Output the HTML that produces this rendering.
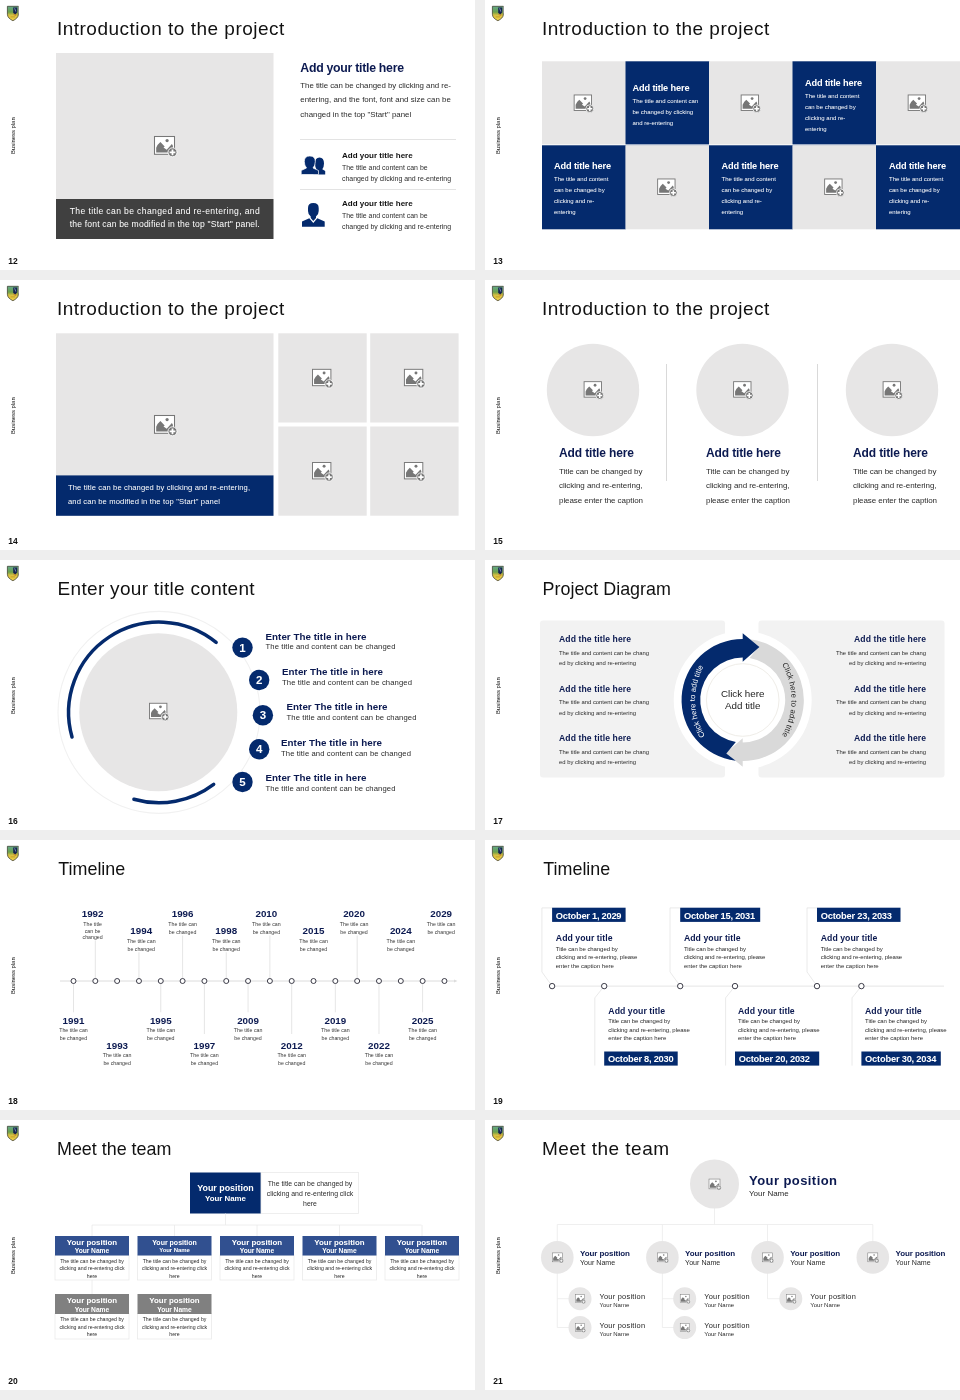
<!DOCTYPE html>
<html lang="en"><head><meta charset="utf-8"><title>Business plan slides 12-21</title>
<style>html,body{margin:0;padding:0}body{width:960px;height:1400px;background:#eeeeee;position:relative;overflow:hidden;font-family:'Liberation Sans', sans-serif}.s{position:absolute;display:block}</style></head>
<body>
<svg class="s" style="left:0px;top:0px" width="475" height="270" viewBox="0 0 475 270" font-family="'Liberation Sans', sans-serif">
<rect width="475" height="270" fill="#fff"/>
<linearGradient id="lg1" x1="0" y1="0" x2="0" y2="1"><stop offset="0" stop-color="#63a98c"/><stop offset="0.4" stop-color="#6aa04a"/><stop offset="0.62" stop-color="#d8c040"/><stop offset="1" stop-color="#f2d24a"/></linearGradient><path d="M7.4 6.3 H18.4 V14.3 C18.4 17.4 15.6 19.4 12.9 20.7 C10.2 19.4 7.4 17.4 7.4 14.3 Z" fill="url(#lg1)"/><path d="M13.2 7.6 H17.2 V12.2 L15.4 14.6 L13.2 13 Z" fill="#14224f"/><path d="M14.6 8.2 L15.8 11.6" stroke="#9fb4d8" stroke-width="0.7"/><path d="M13.4 13.2 L15.4 14.8 L16.6 13.2 L16 16 L13.6 15 Z" fill="#c8782c" opacity="0.8"/><path d="M10.6 16.9 H15" stroke="#b8901e" stroke-width="0.7"/><path d="M7.4 6.3 H18.4 V14.3 C18.4 17.4 15.6 19.4 12.9 20.7 C10.2 19.4 7.4 17.4 7.4 14.3 Z" fill="none" stroke="#3b3b2c" stroke-width="0.75"/><path d="M18.4 6.3 V13.6" stroke="#a9a9a4" stroke-width="0.8"/>
<text x="56.9" y="35" font-size="19" fill="#111" textLength="227.5" lengthAdjust="spacing" >Introduction to the project</text>
<text transform="translate(15,154) rotate(-90)" font-size="5.9" fill="#111">Business plan</text>
<text x="8.3" y="263.9" font-size="8.5" fill="#111" font-weight="bold" >12</text>
<rect x="56" y="53" width="217.5" height="146" fill="#e7e6e6" />
<rect x="56" y="199" width="217.5" height="40" fill="#404040" />
<g transform="translate(164.5,145.5) scale(1.0)"><rect x="-10" y="-9" width="20" height="17.8" fill="#fff" stroke="#777" stroke-width="1.05"/><path d="M-8.3 6.9 L-8.3 2.2 Q-7.2 -0.8 -4.1 -3.4 L0.2 0.9 L-1 2.1 L2.2 4.2 L7.4 -1.4 L8.4 0.2 L8.4 6.9 Z" fill="#777"/><circle cx="2.6" cy="-4.9" r="1.6" fill="#777"/><circle cx="8" cy="6.8" r="4.5" fill="#777" stroke="#fff" stroke-width="0.9"/><path d="M8 3.9 V9.7 M5.1 6.8 H10.9" stroke="#fff" stroke-width="1.8" fill="none"/></g>
<text x="164.75" y="214" font-size="8.6" fill="#fff" text-anchor="middle" textLength="190" lengthAdjust="spacing" >The title can be changed and re-entering, and</text>
<text x="164.75" y="227" font-size="8.6" fill="#fff" text-anchor="middle" textLength="190" lengthAdjust="spacing" >the font can be modified in the top "Start" panel.</text>
<text x="300.3" y="72" font-size="12.3" fill="#0b1950" font-weight="bold" textLength="103.7" lengthAdjust="spacing" >Add your title here</text>
<text x="300.3" y="87.5" font-size="7.9" fill="#2b2b2b" textLength="150.6" lengthAdjust="spacing" >The title can be changed by clicking and re-</text>
<text x="300.3" y="102.1" font-size="7.9" fill="#2b2b2b" textLength="150.6" lengthAdjust="spacing" >entering, and the font, font and size can be</text>
<text x="300.3" y="116.6" font-size="7.9" fill="#2b2b2b" >changed in the top "Start" panel</text>
<line x1="300" y1="139.5" x2="456" y2="139.5" stroke="#e3e3e3" stroke-width="1" />
<line x1="300" y1="189.5" x2="456" y2="189.5" stroke="#e3e3e3" stroke-width="1" />
<g fill="#042a6d"><path d="M313.5 174.5 V171 L316.5 169.3 Q315 167 315 163.5 Q315 157.5 319.5 157.5 Q324 157.5 324 163.5 Q324 167 322.3 169.3 L325.2 171 V174.5 Z"/><path d="M301.2 174.5 V170.5 L306.5 168 Q304.3 165.5 304.3 161.5 Q304.3 156 309.8 156 Q315.3 156 315.3 161.5 Q315.3 165.5 313 168 L318.5 170.5 V174.5 Z" stroke="#fff" stroke-width="0.7"/></g>
<g fill="#042a6d"><path d="M308 208 Q308 203 313.3 203 Q318.7 203 318.7 208 V211 Q318.7 214.5 316 216.5 L316 218 L313.3 221 L310.7 218 L310.7 216.5 Q308 214.5 308 211 Z"/><path d="M302 226.8 V221.5 L309.3 218.3 L313.3 223 L317.3 218.3 L324.7 221.5 V226.8 Z"/></g>
<text x="342" y="158.2" font-size="8.0" fill="#111" font-weight="bold" >Add your title here</text>
<text x="342" y="170.0" font-size="6.95" fill="#2b2b2b" >The title and content can be</text>
<text x="342" y="181.0" font-size="6.95" fill="#2b2b2b" textLength="109" lengthAdjust="spacing" >changed by clicking and re-entering</text>
<text x="342" y="206.3" font-size="8.0" fill="#111" font-weight="bold" >Add your title here</text>
<text x="342" y="218.10000000000002" font-size="6.95" fill="#2b2b2b" >The title and content can be</text>
<text x="342" y="229.10000000000002" font-size="6.95" fill="#2b2b2b" textLength="109" lengthAdjust="spacing" >changed by clicking and re-entering</text>
</svg>
<svg class="s" style="left:485px;top:0px" width="475" height="270" viewBox="0 0 475 270" font-family="'Liberation Sans', sans-serif">
<rect width="475" height="270" fill="#fff"/>
<linearGradient id="lg2" x1="0" y1="0" x2="0" y2="1"><stop offset="0" stop-color="#63a98c"/><stop offset="0.4" stop-color="#6aa04a"/><stop offset="0.62" stop-color="#d8c040"/><stop offset="1" stop-color="#f2d24a"/></linearGradient><path d="M7.4 6.3 H18.4 V14.3 C18.4 17.4 15.6 19.4 12.9 20.7 C10.2 19.4 7.4 17.4 7.4 14.3 Z" fill="url(#lg2)"/><path d="M13.2 7.6 H17.2 V12.2 L15.4 14.6 L13.2 13 Z" fill="#14224f"/><path d="M14.6 8.2 L15.8 11.6" stroke="#9fb4d8" stroke-width="0.7"/><path d="M13.4 13.2 L15.4 14.8 L16.6 13.2 L16 16 L13.6 15 Z" fill="#c8782c" opacity="0.8"/><path d="M10.6 16.9 H15" stroke="#b8901e" stroke-width="0.7"/><path d="M7.4 6.3 H18.4 V14.3 C18.4 17.4 15.6 19.4 12.9 20.7 C10.2 19.4 7.4 17.4 7.4 14.3 Z" fill="none" stroke="#3b3b2c" stroke-width="0.75"/><path d="M18.4 6.3 V13.6" stroke="#a9a9a4" stroke-width="0.8"/>
<text x="56.9" y="35" font-size="19" fill="#111" textLength="227.5" lengthAdjust="spacing" >Introduction to the project</text>
<text transform="translate(15,154) rotate(-90)" font-size="5.9" fill="#111">Business plan</text>
<text x="8.3" y="263.9" font-size="8.5" fill="#111" font-weight="bold" >13</text>
<rect x="57.0" y="61.3" width="83.8" height="84" fill="#e7e6e6" />
<g transform="translate(97.85,102.8) scale(0.87)"><rect x="-10" y="-9" width="20" height="17.8" fill="#fff" stroke="#777" stroke-width="1.05"/><path d="M-8.3 6.9 L-8.3 2.2 Q-7.2 -0.8 -4.1 -3.4 L0.2 0.9 L-1 2.1 L2.2 4.2 L7.4 -1.4 L8.4 0.2 L8.4 6.9 Z" fill="#777"/><circle cx="2.6" cy="-4.9" r="1.6" fill="#777"/><circle cx="8" cy="6.8" r="4.5" fill="#777" stroke="#fff" stroke-width="0.9"/><path d="M8 3.9 V9.7 M5.1 6.8 H10.9" stroke="#fff" stroke-width="1.8" fill="none"/></g>
<rect x="140.5" y="61.3" width="83.8" height="84" fill="#042a6d" />
<rect x="224.0" y="61.3" width="83.8" height="84" fill="#e7e6e6" />
<g transform="translate(264.85,102.8) scale(0.87)"><rect x="-10" y="-9" width="20" height="17.8" fill="#fff" stroke="#777" stroke-width="1.05"/><path d="M-8.3 6.9 L-8.3 2.2 Q-7.2 -0.8 -4.1 -3.4 L0.2 0.9 L-1 2.1 L2.2 4.2 L7.4 -1.4 L8.4 0.2 L8.4 6.9 Z" fill="#777"/><circle cx="2.6" cy="-4.9" r="1.6" fill="#777"/><circle cx="8" cy="6.8" r="4.5" fill="#777" stroke="#fff" stroke-width="0.9"/><path d="M8 3.9 V9.7 M5.1 6.8 H10.9" stroke="#fff" stroke-width="1.8" fill="none"/></g>
<rect x="307.5" y="61.3" width="83.8" height="84" fill="#042a6d" />
<rect x="391.0" y="61.3" width="85.0" height="84" fill="#e7e6e6" />
<g transform="translate(431.85,102.8) scale(0.87)"><rect x="-10" y="-9" width="20" height="17.8" fill="#fff" stroke="#777" stroke-width="1.05"/><path d="M-8.3 6.9 L-8.3 2.2 Q-7.2 -0.8 -4.1 -3.4 L0.2 0.9 L-1 2.1 L2.2 4.2 L7.4 -1.4 L8.4 0.2 L8.4 6.9 Z" fill="#777"/><circle cx="2.6" cy="-4.9" r="1.6" fill="#777"/><circle cx="8" cy="6.8" r="4.5" fill="#777" stroke="#fff" stroke-width="0.9"/><path d="M8 3.9 V9.7 M5.1 6.8 H10.9" stroke="#fff" stroke-width="1.8" fill="none"/></g>
<rect x="57.0" y="145.3" width="83.8" height="84" fill="#042a6d" />
<rect x="140.5" y="145.3" width="83.8" height="84" fill="#e7e6e6" />
<g transform="translate(181.35,186.8) scale(0.87)"><rect x="-10" y="-9" width="20" height="17.8" fill="#fff" stroke="#777" stroke-width="1.05"/><path d="M-8.3 6.9 L-8.3 2.2 Q-7.2 -0.8 -4.1 -3.4 L0.2 0.9 L-1 2.1 L2.2 4.2 L7.4 -1.4 L8.4 0.2 L8.4 6.9 Z" fill="#777"/><circle cx="2.6" cy="-4.9" r="1.6" fill="#777"/><circle cx="8" cy="6.8" r="4.5" fill="#777" stroke="#fff" stroke-width="0.9"/><path d="M8 3.9 V9.7 M5.1 6.8 H10.9" stroke="#fff" stroke-width="1.8" fill="none"/></g>
<rect x="224.0" y="145.3" width="83.8" height="84" fill="#042a6d" />
<rect x="307.5" y="145.3" width="83.8" height="84" fill="#e7e6e6" />
<g transform="translate(348.35,186.8) scale(0.87)"><rect x="-10" y="-9" width="20" height="17.8" fill="#fff" stroke="#777" stroke-width="1.05"/><path d="M-8.3 6.9 L-8.3 2.2 Q-7.2 -0.8 -4.1 -3.4 L0.2 0.9 L-1 2.1 L2.2 4.2 L7.4 -1.4 L8.4 0.2 L8.4 6.9 Z" fill="#777"/><circle cx="2.6" cy="-4.9" r="1.6" fill="#777"/><circle cx="8" cy="6.8" r="4.5" fill="#777" stroke="#fff" stroke-width="0.9"/><path d="M8 3.9 V9.7 M5.1 6.8 H10.9" stroke="#fff" stroke-width="1.8" fill="none"/></g>
<rect x="391.0" y="145.3" width="85.0" height="84" fill="#042a6d" />
<rect x="57" y="144.15" width="418" height="0.6" fill="#fff" />
<text x="147.5" y="90.5" font-size="9.2" fill="#fff" font-weight="bold" textLength="57" lengthAdjust="spacing" >Add title here</text>
<text x="147.5" y="102.7" font-size="6.0" fill="#fff" >The title and content can</text>
<text x="147.5" y="113.7" font-size="6.0" fill="#fff" >be changed by clicking</text>
<text x="147.5" y="124.7" font-size="6.0" fill="#fff" >and re-entering</text>
<text x="320" y="85.5" font-size="9.2" fill="#fff" font-weight="bold" textLength="57" lengthAdjust="spacing" >Add title here</text>
<text x="320" y="97.7" font-size="6.0" fill="#fff" >The title and content</text>
<text x="320" y="108.7" font-size="6.0" fill="#fff" >can be changed by</text>
<text x="320" y="119.7" font-size="6.0" fill="#fff" >clicking and re-</text>
<text x="320" y="130.7" font-size="6.0" fill="#fff" >entering</text>
<text x="69" y="169" font-size="9.2" fill="#fff" font-weight="bold" textLength="57" lengthAdjust="spacing" >Add title here</text>
<text x="69" y="181.2" font-size="6.0" fill="#fff" >The title and content</text>
<text x="69" y="192.2" font-size="6.0" fill="#fff" >can be changed by</text>
<text x="69" y="203.2" font-size="6.0" fill="#fff" >clicking and re-</text>
<text x="69" y="214.2" font-size="6.0" fill="#fff" >entering</text>
<text x="236.5" y="169" font-size="9.2" fill="#fff" font-weight="bold" textLength="57" lengthAdjust="spacing" >Add title here</text>
<text x="236.5" y="181.2" font-size="6.0" fill="#fff" >The title and content</text>
<text x="236.5" y="192.2" font-size="6.0" fill="#fff" >can be changed by</text>
<text x="236.5" y="203.2" font-size="6.0" fill="#fff" >clicking and re-</text>
<text x="236.5" y="214.2" font-size="6.0" fill="#fff" >entering</text>
<text x="404" y="169" font-size="9.2" fill="#fff" font-weight="bold" textLength="57" lengthAdjust="spacing" >Add title here</text>
<text x="404" y="181.2" font-size="6.0" fill="#fff" >The title and content</text>
<text x="404" y="192.2" font-size="6.0" fill="#fff" >can be changed by</text>
<text x="404" y="203.2" font-size="6.0" fill="#fff" >clicking and re-</text>
<text x="404" y="214.2" font-size="6.0" fill="#fff" >entering</text>
</svg>
<svg class="s" style="left:0px;top:280px" width="475" height="270" viewBox="0 0 475 270" font-family="'Liberation Sans', sans-serif">
<rect width="475" height="270" fill="#fff"/>
<linearGradient id="lg3" x1="0" y1="0" x2="0" y2="1"><stop offset="0" stop-color="#63a98c"/><stop offset="0.4" stop-color="#6aa04a"/><stop offset="0.62" stop-color="#d8c040"/><stop offset="1" stop-color="#f2d24a"/></linearGradient><path d="M7.4 6.3 H18.4 V14.3 C18.4 17.4 15.6 19.4 12.9 20.7 C10.2 19.4 7.4 17.4 7.4 14.3 Z" fill="url(#lg3)"/><path d="M13.2 7.6 H17.2 V12.2 L15.4 14.6 L13.2 13 Z" fill="#14224f"/><path d="M14.6 8.2 L15.8 11.6" stroke="#9fb4d8" stroke-width="0.7"/><path d="M13.4 13.2 L15.4 14.8 L16.6 13.2 L16 16 L13.6 15 Z" fill="#c8782c" opacity="0.8"/><path d="M10.6 16.9 H15" stroke="#b8901e" stroke-width="0.7"/><path d="M7.4 6.3 H18.4 V14.3 C18.4 17.4 15.6 19.4 12.9 20.7 C10.2 19.4 7.4 17.4 7.4 14.3 Z" fill="none" stroke="#3b3b2c" stroke-width="0.75"/><path d="M18.4 6.3 V13.6" stroke="#a9a9a4" stroke-width="0.8"/>
<text x="56.9" y="35" font-size="19" fill="#111" textLength="227.5" lengthAdjust="spacing" >Introduction to the project</text>
<text transform="translate(15,154) rotate(-90)" font-size="5.9" fill="#111">Business plan</text>
<text x="8.3" y="263.9" font-size="8.5" fill="#111" font-weight="bold" >14</text>
<rect x="56" y="53.3" width="217.5" height="142.5" fill="#e7e6e6" />
<rect x="56" y="195.4" width="217.5" height="40.4" fill="#042a6d" />
<g transform="translate(164.5,144.5) scale(1.0)"><rect x="-10" y="-9" width="20" height="17.8" fill="#fff" stroke="#777" stroke-width="1.05"/><path d="M-8.3 6.9 L-8.3 2.2 Q-7.2 -0.8 -4.1 -3.4 L0.2 0.9 L-1 2.1 L2.2 4.2 L7.4 -1.4 L8.4 0.2 L8.4 6.9 Z" fill="#777"/><circle cx="2.6" cy="-4.9" r="1.6" fill="#777"/><circle cx="8" cy="6.8" r="4.5" fill="#777" stroke="#fff" stroke-width="0.9"/><path d="M8 3.9 V9.7 M5.1 6.8 H10.9" stroke="#fff" stroke-width="1.8" fill="none"/></g>
<text x="68" y="209.5" font-size="7.6" fill="#fff" textLength="182" lengthAdjust="spacing" >The title can be changed by clicking and re-entering,</text>
<text x="68" y="223.5" font-size="7.6" fill="#fff" textLength="152" lengthAdjust="spacing" >and can be modified in the top "Start" panel</text>
<rect x="278.3" y="53.3" width="88.4" height="89.2" fill="#e7e6e6" />
<g transform="translate(321.7,97.6) scale(0.92)"><rect x="-10" y="-9" width="20" height="17.8" fill="#fff" stroke="#777" stroke-width="1.05"/><path d="M-8.3 6.9 L-8.3 2.2 Q-7.2 -0.8 -4.1 -3.4 L0.2 0.9 L-1 2.1 L2.2 4.2 L7.4 -1.4 L8.4 0.2 L8.4 6.9 Z" fill="#777"/><circle cx="2.6" cy="-4.9" r="1.6" fill="#777"/><circle cx="8" cy="6.8" r="4.5" fill="#777" stroke="#fff" stroke-width="0.9"/><path d="M8 3.9 V9.7 M5.1 6.8 H10.9" stroke="#fff" stroke-width="1.8" fill="none"/></g>
<rect x="370.2" y="53.3" width="88.4" height="89.2" fill="#e7e6e6" />
<g transform="translate(413.6,97.6) scale(0.92)"><rect x="-10" y="-9" width="20" height="17.8" fill="#fff" stroke="#777" stroke-width="1.05"/><path d="M-8.3 6.9 L-8.3 2.2 Q-7.2 -0.8 -4.1 -3.4 L0.2 0.9 L-1 2.1 L2.2 4.2 L7.4 -1.4 L8.4 0.2 L8.4 6.9 Z" fill="#777"/><circle cx="2.6" cy="-4.9" r="1.6" fill="#777"/><circle cx="8" cy="6.8" r="4.5" fill="#777" stroke="#fff" stroke-width="0.9"/><path d="M8 3.9 V9.7 M5.1 6.8 H10.9" stroke="#fff" stroke-width="1.8" fill="none"/></g>
<rect x="278.3" y="146.5" width="88.4" height="89.2" fill="#e7e6e6" />
<g transform="translate(321.7,190.8) scale(0.92)"><rect x="-10" y="-9" width="20" height="17.8" fill="#fff" stroke="#777" stroke-width="1.05"/><path d="M-8.3 6.9 L-8.3 2.2 Q-7.2 -0.8 -4.1 -3.4 L0.2 0.9 L-1 2.1 L2.2 4.2 L7.4 -1.4 L8.4 0.2 L8.4 6.9 Z" fill="#777"/><circle cx="2.6" cy="-4.9" r="1.6" fill="#777"/><circle cx="8" cy="6.8" r="4.5" fill="#777" stroke="#fff" stroke-width="0.9"/><path d="M8 3.9 V9.7 M5.1 6.8 H10.9" stroke="#fff" stroke-width="1.8" fill="none"/></g>
<rect x="370.2" y="146.5" width="88.4" height="89.2" fill="#e7e6e6" />
<g transform="translate(413.6,190.8) scale(0.92)"><rect x="-10" y="-9" width="20" height="17.8" fill="#fff" stroke="#777" stroke-width="1.05"/><path d="M-8.3 6.9 L-8.3 2.2 Q-7.2 -0.8 -4.1 -3.4 L0.2 0.9 L-1 2.1 L2.2 4.2 L7.4 -1.4 L8.4 0.2 L8.4 6.9 Z" fill="#777"/><circle cx="2.6" cy="-4.9" r="1.6" fill="#777"/><circle cx="8" cy="6.8" r="4.5" fill="#777" stroke="#fff" stroke-width="0.9"/><path d="M8 3.9 V9.7 M5.1 6.8 H10.9" stroke="#fff" stroke-width="1.8" fill="none"/></g>
</svg>
<svg class="s" style="left:485px;top:280px" width="475" height="270" viewBox="0 0 475 270" font-family="'Liberation Sans', sans-serif">
<rect width="475" height="270" fill="#fff"/>
<linearGradient id="lg4" x1="0" y1="0" x2="0" y2="1"><stop offset="0" stop-color="#63a98c"/><stop offset="0.4" stop-color="#6aa04a"/><stop offset="0.62" stop-color="#d8c040"/><stop offset="1" stop-color="#f2d24a"/></linearGradient><path d="M7.4 6.3 H18.4 V14.3 C18.4 17.4 15.6 19.4 12.9 20.7 C10.2 19.4 7.4 17.4 7.4 14.3 Z" fill="url(#lg4)"/><path d="M13.2 7.6 H17.2 V12.2 L15.4 14.6 L13.2 13 Z" fill="#14224f"/><path d="M14.6 8.2 L15.8 11.6" stroke="#9fb4d8" stroke-width="0.7"/><path d="M13.4 13.2 L15.4 14.8 L16.6 13.2 L16 16 L13.6 15 Z" fill="#c8782c" opacity="0.8"/><path d="M10.6 16.9 H15" stroke="#b8901e" stroke-width="0.7"/><path d="M7.4 6.3 H18.4 V14.3 C18.4 17.4 15.6 19.4 12.9 20.7 C10.2 19.4 7.4 17.4 7.4 14.3 Z" fill="none" stroke="#3b3b2c" stroke-width="0.75"/><path d="M18.4 6.3 V13.6" stroke="#a9a9a4" stroke-width="0.8"/>
<text x="56.9" y="35" font-size="19" fill="#111" textLength="227.5" lengthAdjust="spacing" >Introduction to the project</text>
<text transform="translate(15,154) rotate(-90)" font-size="5.9" fill="#111">Business plan</text>
<text x="8.3" y="263.9" font-size="8.5" fill="#111" font-weight="bold" >15</text>
<circle cx="108" cy="110" r="46.2" fill="#e7e6e6" />
<g transform="translate(107.8,109.5) scale(0.87)"><rect x="-10" y="-9" width="20" height="17.8" fill="#fff" stroke="#777" stroke-width="1.05"/><path d="M-8.3 6.9 L-8.3 2.2 Q-7.2 -0.8 -4.1 -3.4 L0.2 0.9 L-1 2.1 L2.2 4.2 L7.4 -1.4 L8.4 0.2 L8.4 6.9 Z" fill="#777"/><circle cx="2.6" cy="-4.9" r="1.6" fill="#777"/><circle cx="8" cy="6.8" r="4.5" fill="#777" stroke="#fff" stroke-width="0.9"/><path d="M8 3.9 V9.7 M5.1 6.8 H10.9" stroke="#fff" stroke-width="1.8" fill="none"/></g>
<text x="74" y="177.2" font-size="12" fill="#0b1950" font-weight="bold" textLength="75" lengthAdjust="spacing" >Add title here</text>
<text x="74" y="193.8" font-size="8.0" fill="#2b2b2b" textLength="83.5" lengthAdjust="spacing" >Title can be changed by</text>
<text x="74" y="208.4" font-size="8.0" fill="#2b2b2b" textLength="83.5" lengthAdjust="spacing" >clicking and re-entering,</text>
<text x="74" y="222.7" font-size="8.0" fill="#2b2b2b" textLength="84" lengthAdjust="spacing" >please enter the caption</text>
<circle cx="257.5" cy="110" r="46.2" fill="#e7e6e6" />
<g transform="translate(257.3,109.5) scale(0.87)"><rect x="-10" y="-9" width="20" height="17.8" fill="#fff" stroke="#777" stroke-width="1.05"/><path d="M-8.3 6.9 L-8.3 2.2 Q-7.2 -0.8 -4.1 -3.4 L0.2 0.9 L-1 2.1 L2.2 4.2 L7.4 -1.4 L8.4 0.2 L8.4 6.9 Z" fill="#777"/><circle cx="2.6" cy="-4.9" r="1.6" fill="#777"/><circle cx="8" cy="6.8" r="4.5" fill="#777" stroke="#fff" stroke-width="0.9"/><path d="M8 3.9 V9.7 M5.1 6.8 H10.9" stroke="#fff" stroke-width="1.8" fill="none"/></g>
<text x="221" y="177.2" font-size="12" fill="#0b1950" font-weight="bold" textLength="75" lengthAdjust="spacing" >Add title here</text>
<text x="221" y="193.8" font-size="8.0" fill="#2b2b2b" textLength="83.5" lengthAdjust="spacing" >Title can be changed by</text>
<text x="221" y="208.4" font-size="8.0" fill="#2b2b2b" textLength="83.5" lengthAdjust="spacing" >clicking and re-entering,</text>
<text x="221" y="222.7" font-size="8.0" fill="#2b2b2b" textLength="84" lengthAdjust="spacing" >please enter the caption</text>
<circle cx="407" cy="110" r="46.2" fill="#e7e6e6" />
<g transform="translate(406.8,109.5) scale(0.87)"><rect x="-10" y="-9" width="20" height="17.8" fill="#fff" stroke="#777" stroke-width="1.05"/><path d="M-8.3 6.9 L-8.3 2.2 Q-7.2 -0.8 -4.1 -3.4 L0.2 0.9 L-1 2.1 L2.2 4.2 L7.4 -1.4 L8.4 0.2 L8.4 6.9 Z" fill="#777"/><circle cx="2.6" cy="-4.9" r="1.6" fill="#777"/><circle cx="8" cy="6.8" r="4.5" fill="#777" stroke="#fff" stroke-width="0.9"/><path d="M8 3.9 V9.7 M5.1 6.8 H10.9" stroke="#fff" stroke-width="1.8" fill="none"/></g>
<text x="368" y="177.2" font-size="12" fill="#0b1950" font-weight="bold" textLength="75" lengthAdjust="spacing" >Add title here</text>
<text x="368" y="193.8" font-size="8.0" fill="#2b2b2b" textLength="83.5" lengthAdjust="spacing" >Title can be changed by</text>
<text x="368" y="208.4" font-size="8.0" fill="#2b2b2b" textLength="83.5" lengthAdjust="spacing" >clicking and re-entering,</text>
<text x="368" y="222.7" font-size="8.0" fill="#2b2b2b" textLength="84" lengthAdjust="spacing" >please enter the caption</text>
<line x1="181.5" y1="84" x2="181.5" y2="201" stroke="#d9d9d9" stroke-width="1" />
<line x1="332.5" y1="84" x2="332.5" y2="201" stroke="#d9d9d9" stroke-width="1" />
</svg>
<svg class="s" style="left:0px;top:560px" width="475" height="270" viewBox="0 0 475 270" font-family="'Liberation Sans', sans-serif">
<rect width="475" height="270" fill="#fff"/>
<linearGradient id="lg5" x1="0" y1="0" x2="0" y2="1"><stop offset="0" stop-color="#63a98c"/><stop offset="0.4" stop-color="#6aa04a"/><stop offset="0.62" stop-color="#d8c040"/><stop offset="1" stop-color="#f2d24a"/></linearGradient><path d="M7.4 6.3 H18.4 V14.3 C18.4 17.4 15.6 19.4 12.9 20.7 C10.2 19.4 7.4 17.4 7.4 14.3 Z" fill="url(#lg5)"/><path d="M13.2 7.6 H17.2 V12.2 L15.4 14.6 L13.2 13 Z" fill="#14224f"/><path d="M14.6 8.2 L15.8 11.6" stroke="#9fb4d8" stroke-width="0.7"/><path d="M13.4 13.2 L15.4 14.8 L16.6 13.2 L16 16 L13.6 15 Z" fill="#c8782c" opacity="0.8"/><path d="M10.6 16.9 H15" stroke="#b8901e" stroke-width="0.7"/><path d="M7.4 6.3 H18.4 V14.3 C18.4 17.4 15.6 19.4 12.9 20.7 C10.2 19.4 7.4 17.4 7.4 14.3 Z" fill="none" stroke="#3b3b2c" stroke-width="0.75"/><path d="M18.4 6.3 V13.6" stroke="#a9a9a4" stroke-width="0.8"/>
<text x="57.6" y="35" font-size="19" fill="#111" textLength="197" lengthAdjust="spacing" >Enter your title content</text>
<text transform="translate(15,154) rotate(-90)" font-size="5.9" fill="#111">Business plan</text>
<text x="8.3" y="263.9" font-size="8.5" fill="#111" font-weight="bold" >16</text>
<circle cx="159" cy="152.4" r="101" fill="#fff" stroke="#f1f1f1" stroke-width="1.1"/>
<circle cx="158.3" cy="152.2" r="79" fill="#e7e6e6" />
<path d="M72.02 177.01 A90.4 90.4 0 0 1 216.14 82.35" fill="none" stroke="#042a6d" stroke-width="3.5" stroke-linecap="round"/>
<path d="M213.66 224.41 A90.4 90.4 0 0 1 133.93 239.25" fill="none" stroke="#042a6d" stroke-width="3.5" stroke-linecap="round"/>
<g transform="translate(158.2,151.1) scale(0.87)"><rect x="-10" y="-9" width="20" height="17.8" fill="#fff" stroke="#777" stroke-width="1.05"/><path d="M-8.3 6.9 L-8.3 2.2 Q-7.2 -0.8 -4.1 -3.4 L0.2 0.9 L-1 2.1 L2.2 4.2 L7.4 -1.4 L8.4 0.2 L8.4 6.9 Z" fill="#777"/><circle cx="2.6" cy="-4.9" r="1.6" fill="#777"/><circle cx="8" cy="6.8" r="4.5" fill="#777" stroke="#fff" stroke-width="0.9"/><path d="M8 3.9 V9.7 M5.1 6.8 H10.9" stroke="#fff" stroke-width="1.8" fill="none"/></g>
<circle cx="242.5" cy="87.6" r="10.2" fill="#042a6d" />
<text x="242.5" y="91.69999999999999" font-size="11.5" fill="#fff" font-weight="bold" text-anchor="middle" >1</text>
<text x="265.5" y="79.5" font-size="9.8" fill="#0b1950" font-weight="bold" textLength="101" lengthAdjust="spacing" >Enter The title in here</text>
<text x="265.5" y="89.3" font-size="7.7" fill="#2b2b2b" textLength="130" lengthAdjust="spacing" >The title and content can be changed</text>
<circle cx="259.2" cy="120" r="10.2" fill="#042a6d" />
<text x="259.2" y="124.1" font-size="11.5" fill="#fff" font-weight="bold" text-anchor="middle" >2</text>
<text x="282" y="115" font-size="9.8" fill="#0b1950" font-weight="bold" textLength="101" lengthAdjust="spacing" >Enter The title in here</text>
<text x="282" y="124.8" font-size="7.7" fill="#2b2b2b" textLength="130" lengthAdjust="spacing" >The title and content can be changed</text>
<circle cx="262.9" cy="155.2" r="10.2" fill="#042a6d" />
<text x="262.9" y="159.29999999999998" font-size="11.5" fill="#fff" font-weight="bold" text-anchor="middle" >3</text>
<text x="286.5" y="150" font-size="9.8" fill="#0b1950" font-weight="bold" textLength="101" lengthAdjust="spacing" >Enter The title in here</text>
<text x="286.5" y="159.8" font-size="7.7" fill="#2b2b2b" textLength="130" lengthAdjust="spacing" >The title and content can be changed</text>
<circle cx="259.2" cy="189.3" r="10.2" fill="#042a6d" />
<text x="259.2" y="193.4" font-size="11.5" fill="#fff" font-weight="bold" text-anchor="middle" >4</text>
<text x="281" y="185.75" font-size="9.8" fill="#0b1950" font-weight="bold" textLength="101" lengthAdjust="spacing" >Enter The title in here</text>
<text x="281" y="195.55" font-size="7.7" fill="#2b2b2b" textLength="130" lengthAdjust="spacing" >The title and content can be changed</text>
<circle cx="242.5" cy="222" r="10.2" fill="#042a6d" />
<text x="242.5" y="226.1" font-size="11.5" fill="#fff" font-weight="bold" text-anchor="middle" >5</text>
<text x="265.5" y="220.75" font-size="9.8" fill="#0b1950" font-weight="bold" textLength="101" lengthAdjust="spacing" >Enter The title in here</text>
<text x="265.5" y="230.55" font-size="7.7" fill="#2b2b2b" textLength="130" lengthAdjust="spacing" >The title and content can be changed</text>
</svg>
<svg class="s" style="left:485px;top:560px" width="475" height="270" viewBox="0 0 475 270" font-family="'Liberation Sans', sans-serif">
<rect width="475" height="270" fill="#fff"/>
<linearGradient id="lg6" x1="0" y1="0" x2="0" y2="1"><stop offset="0" stop-color="#63a98c"/><stop offset="0.4" stop-color="#6aa04a"/><stop offset="0.62" stop-color="#d8c040"/><stop offset="1" stop-color="#f2d24a"/></linearGradient><path d="M7.4 6.3 H18.4 V14.3 C18.4 17.4 15.6 19.4 12.9 20.7 C10.2 19.4 7.4 17.4 7.4 14.3 Z" fill="url(#lg6)"/><path d="M13.2 7.6 H17.2 V12.2 L15.4 14.6 L13.2 13 Z" fill="#14224f"/><path d="M14.6 8.2 L15.8 11.6" stroke="#9fb4d8" stroke-width="0.7"/><path d="M13.4 13.2 L15.4 14.8 L16.6 13.2 L16 16 L13.6 15 Z" fill="#c8782c" opacity="0.8"/><path d="M10.6 16.9 H15" stroke="#b8901e" stroke-width="0.7"/><path d="M7.4 6.3 H18.4 V14.3 C18.4 17.4 15.6 19.4 12.9 20.7 C10.2 19.4 7.4 17.4 7.4 14.3 Z" fill="none" stroke="#3b3b2c" stroke-width="0.75"/><path d="M18.4 6.3 V13.6" stroke="#a9a9a4" stroke-width="0.8"/>
<text x="57.6" y="35" font-size="17.9" fill="#111" >Project Diagram</text>
<text transform="translate(15,154) rotate(-90)" font-size="5.9" fill="#111">Business plan</text>
<text x="8.3" y="263.9" font-size="8.5" fill="#111" font-weight="bold" >17</text>
<rect x="55" y="60.5" width="185" height="157" fill="#f2f2f2" rx="3"/>
<rect x="273.5" y="60.5" width="186" height="157" fill="#f2f2f2" rx="3"/>
<circle cx="257.7" cy="140" r="69" fill="#fff" />
<path d="M264.72 79.30 A61.1 61.1 0 0 1 257.70 201.10 L257.70 206.80 L240.98 193.03 L257.70 178.30 L257.70 182.50 A42.5 42.5 0 0 0 264.57 98.06 L274.07 86.45 Z" fill="#d9d9d9"/>
<path d="M250.68 200.70 A61.1 61.1 0 0 1 257.70 78.90 L257.70 73.20 L274.42 86.97 L257.70 101.70 L257.70 97.50 A42.5 42.5 0 0 0 250.83 181.94 L241.33 193.55 Z" fill="#042a6d"/>
<circle cx="257.7" cy="140" r="36.3" fill="#fff" stroke="#efede8" stroke-width="1"/>
<text x="257.7" y="137.3" font-size="9.8" fill="#222" text-anchor="middle" >Click here</text>
<text x="257.7" y="149.1" font-size="9.8" fill="#222" text-anchor="middle" >Add title</text>
<path id="cp1" d="M220.10 176.05 A70 70 0 0 1 222.76 99.85" fill="none"/>
<text font-size="7.7" fill="#fff"><textPath href="#cp1" textLength="72.5" lengthAdjust="spacing">Click here to add title</textPath></text>
<path id="cp2" d="M296.85 104.37 A70 70 0 0 1 293.94 180.15" fill="none"/>
<text font-size="7.8" fill="#262626"><textPath href="#cp2" textLength="74.5" lengthAdjust="spacing">Click here to add title</textPath></text>
<text x="74" y="82" font-size="8.6" fill="#0b1950" font-weight="bold" textLength="72" lengthAdjust="spacing" >Add the title here</text>
<text x="74" y="94.5" font-size="5.9" fill="#2b2b2b" textLength="90" lengthAdjust="spacing" >The title and content can be chang</text>
<text x="74" y="105" font-size="5.9" fill="#2b2b2b" textLength="77" lengthAdjust="spacing" >ed by clicking and re-entering</text>
<text x="441" y="82" font-size="8.6" fill="#0b1950" font-weight="bold" text-anchor="end" textLength="72" lengthAdjust="spacing" >Add the title here</text>
<text x="441" y="94.5" font-size="5.9" fill="#2b2b2b" text-anchor="end" textLength="90" lengthAdjust="spacing" >The title and content can be chang</text>
<text x="441" y="105" font-size="5.9" fill="#2b2b2b" text-anchor="end" textLength="77" lengthAdjust="spacing" >ed by clicking and re-entering</text>
<text x="74" y="131.5" font-size="8.6" fill="#0b1950" font-weight="bold" textLength="72" lengthAdjust="spacing" >Add the title here</text>
<text x="74" y="144.0" font-size="5.9" fill="#2b2b2b" textLength="90" lengthAdjust="spacing" >The title and content can be chang</text>
<text x="74" y="154.5" font-size="5.9" fill="#2b2b2b" textLength="77" lengthAdjust="spacing" >ed by clicking and re-entering</text>
<text x="441" y="131.5" font-size="8.6" fill="#0b1950" font-weight="bold" text-anchor="end" textLength="72" lengthAdjust="spacing" >Add the title here</text>
<text x="441" y="144.0" font-size="5.9" fill="#2b2b2b" text-anchor="end" textLength="90" lengthAdjust="spacing" >The title and content can be chang</text>
<text x="441" y="154.5" font-size="5.9" fill="#2b2b2b" text-anchor="end" textLength="77" lengthAdjust="spacing" >ed by clicking and re-entering</text>
<text x="74" y="181" font-size="8.6" fill="#0b1950" font-weight="bold" textLength="72" lengthAdjust="spacing" >Add the title here</text>
<text x="74" y="193.5" font-size="5.9" fill="#2b2b2b" textLength="90" lengthAdjust="spacing" >The title and content can be chang</text>
<text x="74" y="204" font-size="5.9" fill="#2b2b2b" textLength="77" lengthAdjust="spacing" >ed by clicking and re-entering</text>
<text x="441" y="181" font-size="8.6" fill="#0b1950" font-weight="bold" text-anchor="end" textLength="72" lengthAdjust="spacing" >Add the title here</text>
<text x="441" y="193.5" font-size="5.9" fill="#2b2b2b" text-anchor="end" textLength="90" lengthAdjust="spacing" >The title and content can be chang</text>
<text x="441" y="204" font-size="5.9" fill="#2b2b2b" text-anchor="end" textLength="77" lengthAdjust="spacing" >ed by clicking and re-entering</text>
</svg>
<svg class="s" style="left:0px;top:840px" width="475" height="270" viewBox="0 0 475 270" font-family="'Liberation Sans', sans-serif">
<rect width="475" height="270" fill="#fff"/>
<linearGradient id="lg7" x1="0" y1="0" x2="0" y2="1"><stop offset="0" stop-color="#63a98c"/><stop offset="0.4" stop-color="#6aa04a"/><stop offset="0.62" stop-color="#d8c040"/><stop offset="1" stop-color="#f2d24a"/></linearGradient><path d="M7.4 6.3 H18.4 V14.3 C18.4 17.4 15.6 19.4 12.9 20.7 C10.2 19.4 7.4 17.4 7.4 14.3 Z" fill="url(#lg7)"/><path d="M13.2 7.6 H17.2 V12.2 L15.4 14.6 L13.2 13 Z" fill="#14224f"/><path d="M14.6 8.2 L15.8 11.6" stroke="#9fb4d8" stroke-width="0.7"/><path d="M13.4 13.2 L15.4 14.8 L16.6 13.2 L16 16 L13.6 15 Z" fill="#c8782c" opacity="0.8"/><path d="M10.6 16.9 H15" stroke="#b8901e" stroke-width="0.7"/><path d="M7.4 6.3 H18.4 V14.3 C18.4 17.4 15.6 19.4 12.9 20.7 C10.2 19.4 7.4 17.4 7.4 14.3 Z" fill="none" stroke="#3b3b2c" stroke-width="0.75"/><path d="M18.4 6.3 V13.6" stroke="#a9a9a4" stroke-width="0.8"/>
<text x="58.3" y="35" font-size="17.9" fill="#111" >Timeline</text>
<text transform="translate(15,154) rotate(-90)" font-size="5.9" fill="#111">Business plan</text>
<text x="8.3" y="263.9" font-size="8.5" fill="#111" font-weight="bold" >18</text>
<line x1="60" y1="141" x2="455" y2="141" stroke="#dcdcdc" stroke-width="1" />
<path d="M454 139.6 L457.5 141 L454 142.4 Z" fill="#dcdcdc"/>
<text x="73.5" y="183.7" font-size="9.8" fill="#0b1950" font-weight="bold" text-anchor="middle" >1991</text>
<text x="73.5" y="192.0" font-size="5.25" fill="#3a3a3a" text-anchor="middle" >The title can</text>
<text x="73.5" y="199.8" font-size="5.25" fill="#3a3a3a" text-anchor="middle" >be changed</text>
<line x1="73.5" y1="144" x2="73.5" y2="172.29999999999998" stroke="#dedede" stroke-width="0.8" />
<text x="92.62" y="77.2" font-size="9.8" fill="#0b1950" font-weight="bold" text-anchor="middle" >1992</text>
<text x="92.62" y="86.10000000000001" font-size="5.25" fill="#3a3a3a" text-anchor="middle" >The title</text>
<text x="92.62" y="92.50000000000001" font-size="5.25" fill="#3a3a3a" text-anchor="middle" >can be</text>
<text x="92.62" y="98.9" font-size="5.25" fill="#3a3a3a" text-anchor="middle" >changed</text>
<line x1="95.32" y1="100.4" x2="95.32" y2="138" stroke="#dedede" stroke-width="0.8" />
<text x="117.14" y="208.5" font-size="9.8" fill="#0b1950" font-weight="bold" text-anchor="middle" >1993</text>
<text x="117.14" y="216.8" font-size="5.25" fill="#3a3a3a" text-anchor="middle" >The title can</text>
<text x="117.14" y="224.60000000000002" font-size="5.25" fill="#3a3a3a" text-anchor="middle" >be changed</text>
<text x="141.26" y="94" font-size="9.8" fill="#0b1950" font-weight="bold" text-anchor="middle" >1994</text>
<text x="141.26" y="102.9" font-size="5.25" fill="#3a3a3a" text-anchor="middle" >The title can</text>
<text x="141.26" y="110.80000000000001" font-size="5.25" fill="#3a3a3a" text-anchor="middle" >be changed</text>
<line x1="138.96" y1="112.30000000000001" x2="138.96" y2="138" stroke="#dedede" stroke-width="0.8" />
<text x="160.78" y="183.7" font-size="9.8" fill="#0b1950" font-weight="bold" text-anchor="middle" >1995</text>
<text x="160.78" y="192.0" font-size="5.25" fill="#3a3a3a" text-anchor="middle" >The title can</text>
<text x="160.78" y="199.8" font-size="5.25" fill="#3a3a3a" text-anchor="middle" >be changed</text>
<line x1="160.78" y1="144" x2="160.78" y2="172.29999999999998" stroke="#dedede" stroke-width="0.8" />
<text x="182.6" y="77.2" font-size="9.8" fill="#0b1950" font-weight="bold" text-anchor="middle" >1996</text>
<text x="182.6" y="86.10000000000001" font-size="5.25" fill="#3a3a3a" text-anchor="middle" >The title can</text>
<text x="182.6" y="94.00000000000001" font-size="5.25" fill="#3a3a3a" text-anchor="middle" >be changed</text>
<line x1="182.6" y1="95.50000000000001" x2="182.6" y2="138" stroke="#dedede" stroke-width="0.8" />
<text x="204.42" y="208.5" font-size="9.8" fill="#0b1950" font-weight="bold" text-anchor="middle" >1997</text>
<text x="204.42" y="216.8" font-size="5.25" fill="#3a3a3a" text-anchor="middle" >The title can</text>
<text x="204.42" y="224.60000000000002" font-size="5.25" fill="#3a3a3a" text-anchor="middle" >be changed</text>
<line x1="204.42" y1="144" x2="204.42" y2="194.0" stroke="#dedede" stroke-width="0.8" />
<text x="226.24" y="94" font-size="9.8" fill="#0b1950" font-weight="bold" text-anchor="middle" >1998</text>
<text x="226.24" y="102.9" font-size="5.25" fill="#3a3a3a" text-anchor="middle" >The title can</text>
<text x="226.24" y="110.80000000000001" font-size="5.25" fill="#3a3a3a" text-anchor="middle" >be changed</text>
<line x1="226.24" y1="112.30000000000001" x2="226.24" y2="138" stroke="#dedede" stroke-width="0.8" />
<text x="248.06" y="183.7" font-size="9.8" fill="#0b1950" font-weight="bold" text-anchor="middle" >2009</text>
<text x="248.06" y="192.0" font-size="5.25" fill="#3a3a3a" text-anchor="middle" >The title can</text>
<text x="248.06" y="199.8" font-size="5.25" fill="#3a3a3a" text-anchor="middle" >be changed</text>
<line x1="248.06" y1="144" x2="248.06" y2="172.29999999999998" stroke="#dedede" stroke-width="0.8" />
<text x="266.38" y="77.2" font-size="9.8" fill="#0b1950" font-weight="bold" text-anchor="middle" >2010</text>
<text x="266.38" y="86.10000000000001" font-size="5.25" fill="#3a3a3a" text-anchor="middle" >The title can</text>
<text x="266.38" y="94.00000000000001" font-size="5.25" fill="#3a3a3a" text-anchor="middle" >be changed</text>
<line x1="269.88" y1="95.50000000000001" x2="269.88" y2="138" stroke="#dedede" stroke-width="0.8" />
<text x="291.7" y="208.5" font-size="9.8" fill="#0b1950" font-weight="bold" text-anchor="middle" >2012</text>
<text x="291.7" y="216.8" font-size="5.25" fill="#3a3a3a" text-anchor="middle" >The title can</text>
<text x="291.7" y="224.60000000000002" font-size="5.25" fill="#3a3a3a" text-anchor="middle" >be changed</text>
<line x1="291.7" y1="144" x2="291.7" y2="194.0" stroke="#dedede" stroke-width="0.8" />
<text x="313.52" y="94" font-size="9.8" fill="#0b1950" font-weight="bold" text-anchor="middle" >2015</text>
<text x="313.52" y="102.9" font-size="5.25" fill="#3a3a3a" text-anchor="middle" >The title can</text>
<text x="313.52" y="110.80000000000001" font-size="5.25" fill="#3a3a3a" text-anchor="middle" >be changed</text>
<text x="335.34" y="183.7" font-size="9.8" fill="#0b1950" font-weight="bold" text-anchor="middle" >2019</text>
<text x="335.34" y="192.0" font-size="5.25" fill="#3a3a3a" text-anchor="middle" >The title can</text>
<text x="335.34" y="199.8" font-size="5.25" fill="#3a3a3a" text-anchor="middle" >be changed</text>
<line x1="335.34" y1="144" x2="335.34" y2="172.29999999999998" stroke="#dedede" stroke-width="0.8" />
<text x="354.06" y="77.2" font-size="9.8" fill="#0b1950" font-weight="bold" text-anchor="middle" >2020</text>
<text x="354.06" y="86.10000000000001" font-size="5.25" fill="#3a3a3a" text-anchor="middle" >The title can</text>
<text x="354.06" y="94.00000000000001" font-size="5.25" fill="#3a3a3a" text-anchor="middle" >be changed</text>
<line x1="357.16" y1="95.50000000000001" x2="357.16" y2="138" stroke="#dedede" stroke-width="0.8" />
<text x="378.98" y="208.5" font-size="9.8" fill="#0b1950" font-weight="bold" text-anchor="middle" >2022</text>
<text x="378.98" y="216.8" font-size="5.25" fill="#3a3a3a" text-anchor="middle" >The title can</text>
<text x="378.98" y="224.60000000000002" font-size="5.25" fill="#3a3a3a" text-anchor="middle" >be changed</text>
<line x1="378.98" y1="144" x2="378.98" y2="194.0" stroke="#dedede" stroke-width="0.8" />
<text x="400.8" y="94" font-size="9.8" fill="#0b1950" font-weight="bold" text-anchor="middle" >2024</text>
<text x="400.8" y="102.9" font-size="5.25" fill="#3a3a3a" text-anchor="middle" >The title can</text>
<text x="400.8" y="110.80000000000001" font-size="5.25" fill="#3a3a3a" text-anchor="middle" >be changed</text>
<text x="422.62" y="183.7" font-size="9.8" fill="#0b1950" font-weight="bold" text-anchor="middle" >2025</text>
<text x="422.62" y="192.0" font-size="5.25" fill="#3a3a3a" text-anchor="middle" >The title can</text>
<text x="422.62" y="199.8" font-size="5.25" fill="#3a3a3a" text-anchor="middle" >be changed</text>
<line x1="422.62" y1="144" x2="422.62" y2="172.29999999999998" stroke="#dedede" stroke-width="0.8" />
<text x="441.14" y="77.2" font-size="9.8" fill="#0b1950" font-weight="bold" text-anchor="middle" >2029</text>
<text x="441.14" y="86.10000000000001" font-size="5.25" fill="#3a3a3a" text-anchor="middle" >The title can</text>
<text x="441.14" y="94.00000000000001" font-size="5.25" fill="#3a3a3a" text-anchor="middle" >be changed</text>
<circle cx="73.5" cy="141" r="2.5" fill="#fff" stroke="#1c1c2a" stroke-width="0.85"/>
<circle cx="95.32" cy="141" r="2.5" fill="#fff" stroke="#1c1c2a" stroke-width="0.85"/>
<circle cx="117.14" cy="141" r="2.5" fill="#fff" stroke="#1c1c2a" stroke-width="0.85"/>
<circle cx="138.96" cy="141" r="2.5" fill="#fff" stroke="#1c1c2a" stroke-width="0.85"/>
<circle cx="160.78" cy="141" r="2.5" fill="#fff" stroke="#1c1c2a" stroke-width="0.85"/>
<circle cx="182.6" cy="141" r="2.5" fill="#fff" stroke="#1c1c2a" stroke-width="0.85"/>
<circle cx="204.42" cy="141" r="2.5" fill="#fff" stroke="#1c1c2a" stroke-width="0.85"/>
<circle cx="226.24" cy="141" r="2.5" fill="#fff" stroke="#1c1c2a" stroke-width="0.85"/>
<circle cx="248.06" cy="141" r="2.5" fill="#fff" stroke="#1c1c2a" stroke-width="0.85"/>
<circle cx="269.88" cy="141" r="2.5" fill="#fff" stroke="#1c1c2a" stroke-width="0.85"/>
<circle cx="291.7" cy="141" r="2.5" fill="#fff" stroke="#1c1c2a" stroke-width="0.85"/>
<circle cx="313.52" cy="141" r="2.5" fill="#fff" stroke="#1c1c2a" stroke-width="0.85"/>
<circle cx="335.34" cy="141" r="2.5" fill="#fff" stroke="#1c1c2a" stroke-width="0.85"/>
<circle cx="357.16" cy="141" r="2.5" fill="#fff" stroke="#1c1c2a" stroke-width="0.85"/>
<circle cx="378.98" cy="141" r="2.5" fill="#fff" stroke="#1c1c2a" stroke-width="0.85"/>
<circle cx="400.8" cy="141" r="2.5" fill="#fff" stroke="#1c1c2a" stroke-width="0.85"/>
<circle cx="422.62" cy="141" r="2.5" fill="#fff" stroke="#1c1c2a" stroke-width="0.85"/>
<circle cx="444.44" cy="141" r="2.5" fill="#fff" stroke="#1c1c2a" stroke-width="0.85"/>
</svg>
<svg class="s" style="left:485px;top:840px" width="475" height="270" viewBox="0 0 475 270" font-family="'Liberation Sans', sans-serif">
<rect width="475" height="270" fill="#fff"/>
<linearGradient id="lg8" x1="0" y1="0" x2="0" y2="1"><stop offset="0" stop-color="#63a98c"/><stop offset="0.4" stop-color="#6aa04a"/><stop offset="0.62" stop-color="#d8c040"/><stop offset="1" stop-color="#f2d24a"/></linearGradient><path d="M7.4 6.3 H18.4 V14.3 C18.4 17.4 15.6 19.4 12.9 20.7 C10.2 19.4 7.4 17.4 7.4 14.3 Z" fill="url(#lg8)"/><path d="M13.2 7.6 H17.2 V12.2 L15.4 14.6 L13.2 13 Z" fill="#14224f"/><path d="M14.6 8.2 L15.8 11.6" stroke="#9fb4d8" stroke-width="0.7"/><path d="M13.4 13.2 L15.4 14.8 L16.6 13.2 L16 16 L13.6 15 Z" fill="#c8782c" opacity="0.8"/><path d="M10.6 16.9 H15" stroke="#b8901e" stroke-width="0.7"/><path d="M7.4 6.3 H18.4 V14.3 C18.4 17.4 15.6 19.4 12.9 20.7 C10.2 19.4 7.4 17.4 7.4 14.3 Z" fill="none" stroke="#3b3b2c" stroke-width="0.75"/><path d="M18.4 6.3 V13.6" stroke="#a9a9a4" stroke-width="0.8"/>
<text x="58.3" y="35" font-size="17.9" fill="#111" >Timeline</text>
<text transform="translate(15,154) rotate(-90)" font-size="5.9" fill="#111">Business plan</text>
<text x="8.3" y="263.9" font-size="8.5" fill="#111" font-weight="bold" >19</text>
<line x1="64" y1="146.1" x2="459" y2="146.1" stroke="#e5e5e5" stroke-width="1" />
<path d="M67.1 67.9 H56.9 V131.9 L67.1 146.1" fill="none" stroke="#e5e5e5" stroke-width="0.8"/>
<rect x="67.1" y="67.7" width="73.5" height="14.2" fill="#042a6d" />
<text x="70.8" y="78.75" font-size="9.3" fill="#fff" font-weight="bold" textLength="65.7" lengthAdjust="spacing" >October 1, 2029</text>
<text x="70.8" y="101" font-size="8.7" fill="#0b1950" font-weight="bold" textLength="56.7" lengthAdjust="spacing" >Add your title</text>
<text x="70.8" y="111" font-size="6" fill="#2b2b2b" textLength="62" lengthAdjust="spacing" >Title can be changed by</text>
<text x="70.8" y="119.4" font-size="6" fill="#2b2b2b" textLength="81.5" lengthAdjust="spacing" >clicking and re-entering, please</text>
<text x="70.8" y="127.7" font-size="6" fill="#2b2b2b" textLength="58" lengthAdjust="spacing" >enter the caption here</text>
<path d="M195.2 67.9 H185 V131.9 L195.2 146.1" fill="none" stroke="#e5e5e5" stroke-width="0.8"/>
<rect x="195.2" y="67.7" width="80" height="14.2" fill="#042a6d" />
<text x="198.89999999999998" y="78.75" font-size="9.3" fill="#fff" font-weight="bold" textLength="71.3" lengthAdjust="spacing" >October 15, 2031</text>
<text x="198.89999999999998" y="101" font-size="8.7" fill="#0b1950" font-weight="bold" textLength="56.7" lengthAdjust="spacing" >Add your title</text>
<text x="198.89999999999998" y="111" font-size="6" fill="#2b2b2b" textLength="62" lengthAdjust="spacing" >Title can be changed by</text>
<text x="198.89999999999998" y="119.4" font-size="6" fill="#2b2b2b" textLength="81.5" lengthAdjust="spacing" >clicking and re-entering, please</text>
<text x="198.89999999999998" y="127.7" font-size="6" fill="#2b2b2b" textLength="58" lengthAdjust="spacing" >enter the caption here</text>
<path d="M332 67.9 H322 V131.9 L332 146.1" fill="none" stroke="#e5e5e5" stroke-width="0.8"/>
<rect x="332" y="67.7" width="83.5" height="14.2" fill="#042a6d" />
<text x="335.7" y="78.75" font-size="9.3" fill="#fff" font-weight="bold" textLength="71.3" lengthAdjust="spacing" >October 23, 2033</text>
<text x="335.7" y="101" font-size="8.7" fill="#0b1950" font-weight="bold" textLength="56.7" lengthAdjust="spacing" >Add your title</text>
<text x="335.7" y="111" font-size="6" fill="#2b2b2b" textLength="62" lengthAdjust="spacing" >Title can be changed by</text>
<text x="335.7" y="119.4" font-size="6" fill="#2b2b2b" textLength="81.5" lengthAdjust="spacing" >clicking and re-entering, please</text>
<text x="335.7" y="127.7" font-size="6" fill="#2b2b2b" textLength="58" lengthAdjust="spacing" >enter the caption here</text>
<path d="M119.2 146.1 L109.8 157.9 V225.6" fill="none" stroke="#e5e5e5" stroke-width="0.8"/>
<rect x="119.2" y="211.5" width="73.5" height="14.1" fill="#042a6d" />
<text x="122.9" y="221.9" font-size="9.3" fill="#fff" font-weight="bold" textLength="65.7" lengthAdjust="spacing" >October 8, 2030</text>
<text x="123.3" y="174" font-size="8.7" fill="#0b1950" font-weight="bold" textLength="56.7" lengthAdjust="spacing" >Add your title</text>
<text x="123.3" y="183.3" font-size="6" fill="#2b2b2b" textLength="62" lengthAdjust="spacing" >Title can be changed by</text>
<text x="123.3" y="191.9" font-size="6" fill="#2b2b2b" textLength="81.5" lengthAdjust="spacing" >clicking and re-entering, please</text>
<text x="123.3" y="200.2" font-size="6" fill="#2b2b2b" textLength="58" lengthAdjust="spacing" >enter the caption here</text>
<path d="M250 146.1 L240.6 157.9 V225.6" fill="none" stroke="#e5e5e5" stroke-width="0.8"/>
<rect x="250" y="211.5" width="84.2" height="14.1" fill="#042a6d" />
<text x="253.7" y="221.9" font-size="9.3" fill="#fff" font-weight="bold" textLength="71.3" lengthAdjust="spacing" >October 20, 2032</text>
<text x="253.0" y="174" font-size="8.7" fill="#0b1950" font-weight="bold" textLength="56.7" lengthAdjust="spacing" >Add your title</text>
<text x="253.0" y="183.3" font-size="6" fill="#2b2b2b" textLength="62" lengthAdjust="spacing" >Title can be changed by</text>
<text x="253.0" y="191.9" font-size="6" fill="#2b2b2b" textLength="81.5" lengthAdjust="spacing" >clicking and re-entering, please</text>
<text x="253.0" y="200.2" font-size="6" fill="#2b2b2b" textLength="58" lengthAdjust="spacing" >enter the caption here</text>
<path d="M376.4 146.1 L367.0 157.9 V225.6" fill="none" stroke="#e5e5e5" stroke-width="0.8"/>
<rect x="376.4" y="211.5" width="79.4" height="14.1" fill="#042a6d" />
<text x="380.09999999999997" y="221.9" font-size="9.3" fill="#fff" font-weight="bold" textLength="71.3" lengthAdjust="spacing" >October 30, 2034</text>
<text x="380.0" y="174" font-size="8.7" fill="#0b1950" font-weight="bold" textLength="56.7" lengthAdjust="spacing" >Add your title</text>
<text x="380.0" y="183.3" font-size="6" fill="#2b2b2b" textLength="62" lengthAdjust="spacing" >Title can be changed by</text>
<text x="380.0" y="191.9" font-size="6" fill="#2b2b2b" textLength="81.5" lengthAdjust="spacing" >clicking and re-entering, please</text>
<text x="380.0" y="200.2" font-size="6" fill="#2b2b2b" textLength="58" lengthAdjust="spacing" >enter the caption here</text>
<circle cx="67.1" cy="146.1" r="2.7" fill="#fff" stroke="#1c1c2a" stroke-width="0.85"/>
<circle cx="195.2" cy="146.1" r="2.7" fill="#fff" stroke="#1c1c2a" stroke-width="0.85"/>
<circle cx="332" cy="146.1" r="2.7" fill="#fff" stroke="#1c1c2a" stroke-width="0.85"/>
<circle cx="119.2" cy="146.1" r="2.7" fill="#fff" stroke="#1c1c2a" stroke-width="0.85"/>
<circle cx="250" cy="146.1" r="2.7" fill="#fff" stroke="#1c1c2a" stroke-width="0.85"/>
<circle cx="376.4" cy="146.1" r="2.7" fill="#fff" stroke="#1c1c2a" stroke-width="0.85"/>
</svg>
<svg class="s" style="left:0px;top:1120px" width="475" height="270" viewBox="0 0 475 270" font-family="'Liberation Sans', sans-serif">
<rect width="475" height="270" fill="#fff"/>
<linearGradient id="lg9" x1="0" y1="0" x2="0" y2="1"><stop offset="0" stop-color="#63a98c"/><stop offset="0.4" stop-color="#6aa04a"/><stop offset="0.62" stop-color="#d8c040"/><stop offset="1" stop-color="#f2d24a"/></linearGradient><path d="M7.4 6.3 H18.4 V14.3 C18.4 17.4 15.6 19.4 12.9 20.7 C10.2 19.4 7.4 17.4 7.4 14.3 Z" fill="url(#lg9)"/><path d="M13.2 7.6 H17.2 V12.2 L15.4 14.6 L13.2 13 Z" fill="#14224f"/><path d="M14.6 8.2 L15.8 11.6" stroke="#9fb4d8" stroke-width="0.7"/><path d="M13.4 13.2 L15.4 14.8 L16.6 13.2 L16 16 L13.6 15 Z" fill="#c8782c" opacity="0.8"/><path d="M10.6 16.9 H15" stroke="#b8901e" stroke-width="0.7"/><path d="M7.4 6.3 H18.4 V14.3 C18.4 17.4 15.6 19.4 12.9 20.7 C10.2 19.4 7.4 17.4 7.4 14.3 Z" fill="none" stroke="#3b3b2c" stroke-width="0.75"/><path d="M18.4 6.3 V13.6" stroke="#a9a9a4" stroke-width="0.8"/>
<text x="57" y="35" font-size="17.9" fill="#111" >Meet the team</text>
<text transform="translate(15,154) rotate(-90)" font-size="5.9" fill="#111">Business plan</text>
<text x="8.3" y="263.9" font-size="8.5" fill="#111" font-weight="bold" >20</text>
<rect x="190" y="52.5" width="71" height="41" fill="#042a6d" />
<rect x="261" y="52.5" width="97.5" height="41" fill="#fff" stroke="#eaeaea" stroke-width="0.8"/>
<text x="225.5" y="71.3" font-size="8.9" fill="#fff" font-weight="bold" text-anchor="middle" >Your position</text>
<text x="225.5" y="81.3" font-size="7.9" fill="#fff" font-weight="bold" text-anchor="middle" textLength="40.8" lengthAdjust="spacing" >Your Name</text>
<text x="310" y="65.5" font-size="6.9" fill="#2b2b2b" text-anchor="middle" >The title can be changed by</text>
<text x="310" y="75.5" font-size="6.9" fill="#2b2b2b" text-anchor="middle" >clicking and re-entering click</text>
<text x="310" y="85.5" font-size="6.9" fill="#2b2b2b" text-anchor="middle" >here</text>
<path d="M225.5 93.5 V105 M92 105 H421.5" fill="none" stroke="#eaeaea" stroke-width="0.8"/>
<line x1="92" y1="105" x2="92" y2="116" stroke="#eaeaea" stroke-width="0.8" />
<rect x="55" y="135" width="74" height="25" fill="#fff" stroke="#eaeaea" stroke-width="0.8"/>
<rect x="55" y="116" width="74" height="19.5" fill="#315090" />
<text x="92" y="124.5" font-size="7.9" fill="#fff" font-weight="bold" text-anchor="middle" >Your position</text>
<text x="92" y="132.8" font-size="6.7" fill="#fff" font-weight="bold" text-anchor="middle" textLength="34.4" lengthAdjust="spacing" >Your Name</text>
<text x="92" y="142.8" font-size="5.2" fill="#2b2b2b" text-anchor="middle" >The title can be changed by</text>
<text x="92" y="150.3" font-size="5.2" fill="#2b2b2b" text-anchor="middle" >clicking and re-entering click</text>
<text x="92" y="157.8" font-size="5.2" fill="#2b2b2b" text-anchor="middle" >here</text>
<line x1="174.5" y1="105" x2="174.5" y2="116" stroke="#eaeaea" stroke-width="0.8" />
<rect x="137.5" y="135" width="74" height="25" fill="#fff" stroke="#eaeaea" stroke-width="0.8"/>
<rect x="137.5" y="116" width="74" height="19.5" fill="#315090" />
<text x="174.5" y="124.8" font-size="7.0" fill="#fff" font-weight="bold" text-anchor="middle" >Your position</text>
<text x="174.5" y="132.2" font-size="6.0" fill="#fff" font-weight="bold" text-anchor="middle" textLength="30.5" lengthAdjust="spacing" >Your Name</text>
<text x="174.5" y="142.8" font-size="5.2" fill="#2b2b2b" text-anchor="middle" >The title can be changed by</text>
<text x="174.5" y="150.3" font-size="5.2" fill="#2b2b2b" text-anchor="middle" >clicking and re-entering click</text>
<text x="174.5" y="157.8" font-size="5.2" fill="#2b2b2b" text-anchor="middle" >here</text>
<line x1="257" y1="105" x2="257" y2="116" stroke="#eaeaea" stroke-width="0.8" />
<rect x="220" y="135" width="74" height="25" fill="#fff" stroke="#eaeaea" stroke-width="0.8"/>
<rect x="220" y="116" width="74" height="19.5" fill="#315090" />
<text x="257" y="124.5" font-size="7.9" fill="#fff" font-weight="bold" text-anchor="middle" >Your position</text>
<text x="257" y="132.8" font-size="6.7" fill="#fff" font-weight="bold" text-anchor="middle" textLength="34.4" lengthAdjust="spacing" >Your Name</text>
<text x="257" y="142.8" font-size="5.2" fill="#2b2b2b" text-anchor="middle" >The title can be changed by</text>
<text x="257" y="150.3" font-size="5.2" fill="#2b2b2b" text-anchor="middle" >clicking and re-entering click</text>
<text x="257" y="157.8" font-size="5.2" fill="#2b2b2b" text-anchor="middle" >here</text>
<line x1="339.5" y1="105" x2="339.5" y2="116" stroke="#eaeaea" stroke-width="0.8" />
<rect x="302.5" y="135" width="74" height="25" fill="#fff" stroke="#eaeaea" stroke-width="0.8"/>
<rect x="302.5" y="116" width="74" height="19.5" fill="#315090" />
<text x="339.5" y="124.5" font-size="7.9" fill="#fff" font-weight="bold" text-anchor="middle" >Your position</text>
<text x="339.5" y="132.8" font-size="6.7" fill="#fff" font-weight="bold" text-anchor="middle" textLength="34.4" lengthAdjust="spacing" >Your Name</text>
<text x="339.5" y="142.8" font-size="5.2" fill="#2b2b2b" text-anchor="middle" >The title can be changed by</text>
<text x="339.5" y="150.3" font-size="5.2" fill="#2b2b2b" text-anchor="middle" >clicking and re-entering click</text>
<text x="339.5" y="157.8" font-size="5.2" fill="#2b2b2b" text-anchor="middle" >here</text>
<line x1="422" y1="105" x2="422" y2="116" stroke="#eaeaea" stroke-width="0.8" />
<rect x="385" y="135" width="74" height="25" fill="#fff" stroke="#eaeaea" stroke-width="0.8"/>
<rect x="385" y="116" width="74" height="19.5" fill="#315090" />
<text x="422" y="124.5" font-size="7.9" fill="#fff" font-weight="bold" text-anchor="middle" >Your position</text>
<text x="422" y="132.8" font-size="6.7" fill="#fff" font-weight="bold" text-anchor="middle" textLength="34.4" lengthAdjust="spacing" >Your Name</text>
<text x="422" y="142.8" font-size="5.2" fill="#2b2b2b" text-anchor="middle" >The title can be changed by</text>
<text x="422" y="150.3" font-size="5.2" fill="#2b2b2b" text-anchor="middle" >clicking and re-entering click</text>
<text x="422" y="157.8" font-size="5.2" fill="#2b2b2b" text-anchor="middle" >here</text>
<line x1="92" y1="160" x2="92" y2="174" stroke="#eaeaea" stroke-width="0.8" />
<rect x="55" y="193.5" width="74" height="25.5" fill="#fff" stroke="#eaeaea" stroke-width="0.8"/>
<rect x="55" y="174" width="74" height="20" fill="#808080" />
<text x="92" y="182.8" font-size="7.9" fill="#fff" font-weight="bold" text-anchor="middle" >Your position</text>
<text x="92" y="191.5" font-size="6.7" fill="#fff" font-weight="bold" text-anchor="middle" textLength="34.4" lengthAdjust="spacing" >Your Name</text>
<text x="92" y="201.3" font-size="5.2" fill="#2b2b2b" text-anchor="middle" >The title can be changed by</text>
<text x="92" y="208.8" font-size="5.2" fill="#2b2b2b" text-anchor="middle" >clicking and re-entering click</text>
<text x="92" y="216.3" font-size="5.2" fill="#2b2b2b" text-anchor="middle" >here</text>
<rect x="137.5" y="193.5" width="74" height="25.5" fill="#fff" stroke="#eaeaea" stroke-width="0.8"/>
<rect x="137.5" y="174" width="74" height="20" fill="#808080" />
<text x="174.5" y="182.8" font-size="7.9" fill="#fff" font-weight="bold" text-anchor="middle" >Your position</text>
<text x="174.5" y="191.5" font-size="6.7" fill="#fff" font-weight="bold" text-anchor="middle" textLength="34.4" lengthAdjust="spacing" >Your Name</text>
<text x="174.5" y="201.3" font-size="5.2" fill="#2b2b2b" text-anchor="middle" >The title can be changed by</text>
<text x="174.5" y="208.8" font-size="5.2" fill="#2b2b2b" text-anchor="middle" >clicking and re-entering click</text>
<text x="174.5" y="216.3" font-size="5.2" fill="#2b2b2b" text-anchor="middle" >here</text>
</svg>
<svg class="s" style="left:485px;top:1120px" width="475" height="270" viewBox="0 0 475 270" font-family="'Liberation Sans', sans-serif">
<rect width="475" height="270" fill="#fff"/>
<linearGradient id="lg10" x1="0" y1="0" x2="0" y2="1"><stop offset="0" stop-color="#63a98c"/><stop offset="0.4" stop-color="#6aa04a"/><stop offset="0.62" stop-color="#d8c040"/><stop offset="1" stop-color="#f2d24a"/></linearGradient><path d="M7.4 6.3 H18.4 V14.3 C18.4 17.4 15.6 19.4 12.9 20.7 C10.2 19.4 7.4 17.4 7.4 14.3 Z" fill="url(#lg10)"/><path d="M13.2 7.6 H17.2 V12.2 L15.4 14.6 L13.2 13 Z" fill="#14224f"/><path d="M14.6 8.2 L15.8 11.6" stroke="#9fb4d8" stroke-width="0.7"/><path d="M13.4 13.2 L15.4 14.8 L16.6 13.2 L16 16 L13.6 15 Z" fill="#c8782c" opacity="0.8"/><path d="M10.6 16.9 H15" stroke="#b8901e" stroke-width="0.7"/><path d="M7.4 6.3 H18.4 V14.3 C18.4 17.4 15.6 19.4 12.9 20.7 C10.2 19.4 7.4 17.4 7.4 14.3 Z" fill="none" stroke="#3b3b2c" stroke-width="0.75"/><path d="M18.4 6.3 V13.6" stroke="#a9a9a4" stroke-width="0.8"/>
<text x="57" y="35" font-size="19" fill="#111" textLength="127" lengthAdjust="spacing" >Meet the team</text>
<text transform="translate(15,154) rotate(-90)" font-size="5.9" fill="#111">Business plan</text>
<text x="8.3" y="263.9" font-size="8.5" fill="#111" font-weight="bold" >21</text>
<path d="M229.5 88 V104.5 M72.3 104.5 H387.8" fill="none" stroke="#ebebeb" stroke-width="0.8"/>
<circle cx="229.5" cy="64" r="24.5" fill="#e7e6e6" />
<g transform="translate(229.5,64) scale(0.55)"><rect x="-10" y="-9" width="20" height="17.8" fill="#fff" stroke="#777" stroke-width="1.05"/><path d="M-8.3 6.9 L-8.3 2.2 Q-7.2 -0.8 -4.1 -3.4 L0.2 0.9 L-1 2.1 L2.2 4.2 L7.4 -1.4 L8.4 0.2 L8.4 6.9 Z" fill="#777"/><circle cx="2.6" cy="-4.9" r="1.6" fill="#777"/><circle cx="8" cy="6.8" r="4.5" fill="#777" stroke="#fff" stroke-width="0.9"/><path d="M8 3.9 V9.7 M5.1 6.8 H10.9" stroke="#fff" stroke-width="1.8" fill="none"/></g>
<text x="264" y="64.6" font-size="13" fill="#0b1950" font-weight="bold" textLength="88" lengthAdjust="spacing" >Your position</text>
<text x="264" y="76.2" font-size="8.0" fill="#2b2b2b" >Your Name</text>
<line x1="72.3" y1="104.5" x2="72.3" y2="121" stroke="#ebebeb" stroke-width="0.8" />
<line x1="177.4" y1="104.5" x2="177.4" y2="121" stroke="#ebebeb" stroke-width="0.8" />
<line x1="282.5" y1="104.5" x2="282.5" y2="121" stroke="#ebebeb" stroke-width="0.8" />
<line x1="387.8" y1="104.5" x2="387.8" y2="121" stroke="#ebebeb" stroke-width="0.8" />
<path d="M72.3 153 V207.5 M72.3 178.7 H84 M72.3 207.5 H84" fill="none" stroke="#ebebeb" stroke-width="0.8"/>
<path d="M177.4 153 V207.5 M177.4 178.7 H189 M177.4 207.5 H189" fill="none" stroke="#ebebeb" stroke-width="0.8"/>
<path d="M282.5 153 V178.7 H295" fill="none" stroke="#ebebeb" stroke-width="0.8"/>
<circle cx="72.3" cy="137.4" r="16.3" fill="#e7e6e6" />
<g transform="translate(72.3,137.4) scale(0.5)"><rect x="-10" y="-9" width="20" height="17.8" fill="#fff" stroke="#777" stroke-width="1.05"/><path d="M-8.3 6.9 L-8.3 2.2 Q-7.2 -0.8 -4.1 -3.4 L0.2 0.9 L-1 2.1 L2.2 4.2 L7.4 -1.4 L8.4 0.2 L8.4 6.9 Z" fill="#777"/><circle cx="2.6" cy="-4.9" r="1.6" fill="#777"/><circle cx="8" cy="6.8" r="4.5" fill="#777" stroke="#fff" stroke-width="0.9"/><path d="M8 3.9 V9.7 M5.1 6.8 H10.9" stroke="#fff" stroke-width="1.8" fill="none"/></g>
<text x="95.0" y="136" font-size="8" fill="#0b1950" font-weight="bold" textLength="50" lengthAdjust="spacing" >Your position</text>
<text x="95.0" y="144.7" font-size="7.1" fill="#2b2b2b" >Your Name</text>
<circle cx="177.4" cy="137.4" r="16.3" fill="#e7e6e6" />
<g transform="translate(177.4,137.4) scale(0.5)"><rect x="-10" y="-9" width="20" height="17.8" fill="#fff" stroke="#777" stroke-width="1.05"/><path d="M-8.3 6.9 L-8.3 2.2 Q-7.2 -0.8 -4.1 -3.4 L0.2 0.9 L-1 2.1 L2.2 4.2 L7.4 -1.4 L8.4 0.2 L8.4 6.9 Z" fill="#777"/><circle cx="2.6" cy="-4.9" r="1.6" fill="#777"/><circle cx="8" cy="6.8" r="4.5" fill="#777" stroke="#fff" stroke-width="0.9"/><path d="M8 3.9 V9.7 M5.1 6.8 H10.9" stroke="#fff" stroke-width="1.8" fill="none"/></g>
<text x="200.1" y="136" font-size="8" fill="#0b1950" font-weight="bold" textLength="50" lengthAdjust="spacing" >Your position</text>
<text x="200.1" y="144.7" font-size="7.1" fill="#2b2b2b" >Your Name</text>
<circle cx="282.5" cy="137.4" r="16.3" fill="#e7e6e6" />
<g transform="translate(282.5,137.4) scale(0.5)"><rect x="-10" y="-9" width="20" height="17.8" fill="#fff" stroke="#777" stroke-width="1.05"/><path d="M-8.3 6.9 L-8.3 2.2 Q-7.2 -0.8 -4.1 -3.4 L0.2 0.9 L-1 2.1 L2.2 4.2 L7.4 -1.4 L8.4 0.2 L8.4 6.9 Z" fill="#777"/><circle cx="2.6" cy="-4.9" r="1.6" fill="#777"/><circle cx="8" cy="6.8" r="4.5" fill="#777" stroke="#fff" stroke-width="0.9"/><path d="M8 3.9 V9.7 M5.1 6.8 H10.9" stroke="#fff" stroke-width="1.8" fill="none"/></g>
<text x="305.2" y="136" font-size="8" fill="#0b1950" font-weight="bold" textLength="50" lengthAdjust="spacing" >Your position</text>
<text x="305.2" y="144.7" font-size="7.1" fill="#2b2b2b" >Your Name</text>
<circle cx="387.8" cy="137.4" r="16.3" fill="#e7e6e6" />
<g transform="translate(387.8,137.4) scale(0.5)"><rect x="-10" y="-9" width="20" height="17.8" fill="#fff" stroke="#777" stroke-width="1.05"/><path d="M-8.3 6.9 L-8.3 2.2 Q-7.2 -0.8 -4.1 -3.4 L0.2 0.9 L-1 2.1 L2.2 4.2 L7.4 -1.4 L8.4 0.2 L8.4 6.9 Z" fill="#777"/><circle cx="2.6" cy="-4.9" r="1.6" fill="#777"/><circle cx="8" cy="6.8" r="4.5" fill="#777" stroke="#fff" stroke-width="0.9"/><path d="M8 3.9 V9.7 M5.1 6.8 H10.9" stroke="#fff" stroke-width="1.8" fill="none"/></g>
<text x="410.5" y="136" font-size="8" fill="#0b1950" font-weight="bold" textLength="50" lengthAdjust="spacing" >Your position</text>
<text x="410.5" y="144.7" font-size="7.1" fill="#2b2b2b" >Your Name</text>
<circle cx="95" cy="178.7" r="11.5" fill="#e7e6e6" />
<g transform="translate(95,178.7) scale(0.45)"><rect x="-10" y="-9" width="20" height="17.8" fill="#fff" stroke="#777" stroke-width="1.05"/><path d="M-8.3 6.9 L-8.3 2.2 Q-7.2 -0.8 -4.1 -3.4 L0.2 0.9 L-1 2.1 L2.2 4.2 L7.4 -1.4 L8.4 0.2 L8.4 6.9 Z" fill="#777"/><circle cx="2.6" cy="-4.9" r="1.6" fill="#777"/><circle cx="8" cy="6.8" r="4.5" fill="#777" stroke="#fff" stroke-width="0.9"/><path d="M8 3.9 V9.7 M5.1 6.8 H10.9" stroke="#fff" stroke-width="1.8" fill="none"/></g>
<text x="114.5" y="179.2" font-size="7.4" fill="#222" textLength="45.5" lengthAdjust="spacing" >Your position</text>
<text x="114.5" y="187.1" font-size="6.0" fill="#2b2b2b" >Your Name</text>
<circle cx="95" cy="207.5" r="11.5" fill="#e7e6e6" />
<g transform="translate(95,207.5) scale(0.45)"><rect x="-10" y="-9" width="20" height="17.8" fill="#fff" stroke="#777" stroke-width="1.05"/><path d="M-8.3 6.9 L-8.3 2.2 Q-7.2 -0.8 -4.1 -3.4 L0.2 0.9 L-1 2.1 L2.2 4.2 L7.4 -1.4 L8.4 0.2 L8.4 6.9 Z" fill="#777"/><circle cx="2.6" cy="-4.9" r="1.6" fill="#777"/><circle cx="8" cy="6.8" r="4.5" fill="#777" stroke="#fff" stroke-width="0.9"/><path d="M8 3.9 V9.7 M5.1 6.8 H10.9" stroke="#fff" stroke-width="1.8" fill="none"/></g>
<text x="114.5" y="208.0" font-size="7.4" fill="#222" textLength="45.5" lengthAdjust="spacing" >Your position</text>
<text x="114.5" y="215.9" font-size="6.0" fill="#2b2b2b" >Your Name</text>
<circle cx="199.7" cy="178.7" r="11.5" fill="#e7e6e6" />
<g transform="translate(199.7,178.7) scale(0.45)"><rect x="-10" y="-9" width="20" height="17.8" fill="#fff" stroke="#777" stroke-width="1.05"/><path d="M-8.3 6.9 L-8.3 2.2 Q-7.2 -0.8 -4.1 -3.4 L0.2 0.9 L-1 2.1 L2.2 4.2 L7.4 -1.4 L8.4 0.2 L8.4 6.9 Z" fill="#777"/><circle cx="2.6" cy="-4.9" r="1.6" fill="#777"/><circle cx="8" cy="6.8" r="4.5" fill="#777" stroke="#fff" stroke-width="0.9"/><path d="M8 3.9 V9.7 M5.1 6.8 H10.9" stroke="#fff" stroke-width="1.8" fill="none"/></g>
<text x="219.2" y="179.2" font-size="7.4" fill="#222" textLength="45.5" lengthAdjust="spacing" >Your position</text>
<text x="219.2" y="187.1" font-size="6.0" fill="#2b2b2b" >Your Name</text>
<circle cx="199.7" cy="207.5" r="11.5" fill="#e7e6e6" />
<g transform="translate(199.7,207.5) scale(0.45)"><rect x="-10" y="-9" width="20" height="17.8" fill="#fff" stroke="#777" stroke-width="1.05"/><path d="M-8.3 6.9 L-8.3 2.2 Q-7.2 -0.8 -4.1 -3.4 L0.2 0.9 L-1 2.1 L2.2 4.2 L7.4 -1.4 L8.4 0.2 L8.4 6.9 Z" fill="#777"/><circle cx="2.6" cy="-4.9" r="1.6" fill="#777"/><circle cx="8" cy="6.8" r="4.5" fill="#777" stroke="#fff" stroke-width="0.9"/><path d="M8 3.9 V9.7 M5.1 6.8 H10.9" stroke="#fff" stroke-width="1.8" fill="none"/></g>
<text x="219.2" y="208.0" font-size="7.4" fill="#222" textLength="45.5" lengthAdjust="spacing" >Your position</text>
<text x="219.2" y="215.9" font-size="6.0" fill="#2b2b2b" >Your Name</text>
<circle cx="305.8" cy="178.7" r="11.5" fill="#e7e6e6" />
<g transform="translate(305.8,178.7) scale(0.45)"><rect x="-10" y="-9" width="20" height="17.8" fill="#fff" stroke="#777" stroke-width="1.05"/><path d="M-8.3 6.9 L-8.3 2.2 Q-7.2 -0.8 -4.1 -3.4 L0.2 0.9 L-1 2.1 L2.2 4.2 L7.4 -1.4 L8.4 0.2 L8.4 6.9 Z" fill="#777"/><circle cx="2.6" cy="-4.9" r="1.6" fill="#777"/><circle cx="8" cy="6.8" r="4.5" fill="#777" stroke="#fff" stroke-width="0.9"/><path d="M8 3.9 V9.7 M5.1 6.8 H10.9" stroke="#fff" stroke-width="1.8" fill="none"/></g>
<text x="325.3" y="179.2" font-size="7.4" fill="#222" textLength="45.5" lengthAdjust="spacing" >Your position</text>
<text x="325.3" y="187.1" font-size="6.0" fill="#2b2b2b" >Your Name</text>
</svg>
</body></html>
